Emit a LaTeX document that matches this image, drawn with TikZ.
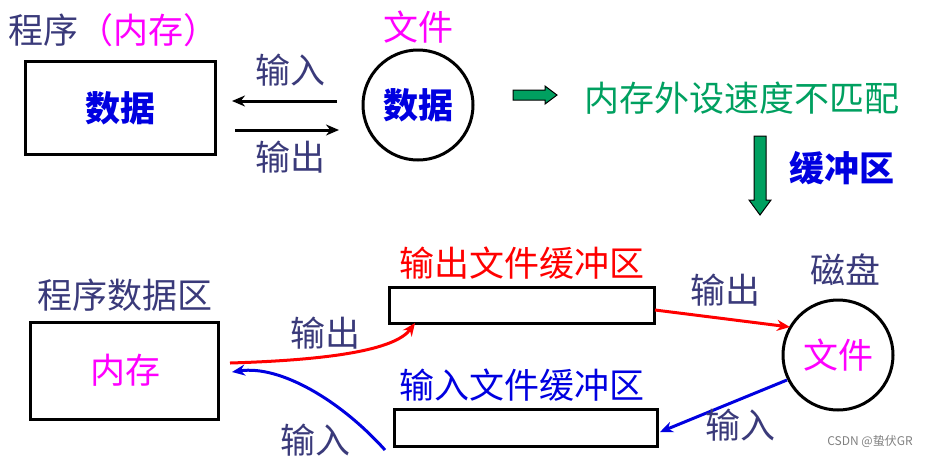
\documentclass[tikz,border=0pt]{standalone}
\usepackage{fontspec}
\setmainfont{Noto Sans CJK SC}
\usetikzlibrary{arrows.meta}
\definecolor{dk}{HTML}{3A3A7A}
\definecolor{mg}{HTML}{FF00FF}
\definecolor{gr}{HTML}{00A060}
\definecolor{bl}{HTML}{0000E0}
\tikzset{
 t/.style={inner sep=0pt,font=\fontsize{35}{37}\selectfont},
 tb/.style={inner sep=0pt,font=\bfseries\fontsize{35}{37}\selectfont},
 box/.style={draw,line width=3pt,inner sep=0pt},
 ar/.style={line width=3pt,-{Stealth[length=13pt,width=11pt]}},
 garrow/.style={draw=black,fill=gr,line width=1pt},
}
\begin{document}
\begin{tikzpicture}[x=1pt,y=-1pt]
\useasboundingbox (0,0) rectangle (937,459);
\node[t,dk,anchor=west] (t1) at (8,30) {程序\textcolor{mg}{（内存）}};
\node[box,minimum width=190pt,minimum height=93pt] (r1) at (120,108) {};
\node[tb,bl] (d1) at (120,108) {数据};
\node[draw,circle,line width=3pt,minimum size=110pt] (c1) at (418,105) {};
\node[tb,bl] (d2) at (418,105) {数据};
\node[t,mg] (f1) at (418,27) {文件};
\coordinate (a1) at (337,101); \coordinate (a2) at (232,101);
\coordinate (a3) at (235,130); \coordinate (a4) at (339,130);
\draw[ar,black] (a1) -- (a2);
\draw[ar,black] (a3) -- (a4);
\node[t,dk] (l1) at (290,70) {输入};
\node[t,dk] (l2) at (290,157) {输出};
\draw[garrow] (513,90) -- (545,90) -- (545,86) -- (557,95) -- (545,104) -- (545,100) -- (513,100) -- cycle;
\node[t,gr] (g1) at (742,98) {内存外设速度不匹配};
\draw[garrow] (754,136) -- (766,136) -- (766,200) -- (771,200) -- (760,215) -- (749,200) -- (754,200) -- cycle;
\node[tb,bl] (hc) at (842,168) {缓冲区};
\node[t,dk] (t2) at (125,295) {程序数据区};
\node[box,minimum width=188pt,minimum height=97pt] (r2) at (124,371) {};
\node[t,mg] (nc) at (125,370) {内存};
\node[t,red] (t3) at (522,263) {输出文件缓冲区};
\node[box,minimum width=265pt,minimum height=36pt] (ob) at (522,305) {};
\node[t,bl] (t4) at (522,385) {输入文件缓冲区};
\node[box,minimum width=263pt,minimum height=37pt] (ib) at (526,428) {};
\node[t,dk] (t5) at (845,270) {磁盘};
\node[draw,circle,line width=3pt,minimum size=110pt] (c2) at (838,355) {};
\node[t,mg] (f2) at (838,355) {文件};
\coordinate (s1) at (230,363);
\coordinate (s2) at (385,450);
\draw[ar,red] (s1) .. controls (330,360) and (395,350) .. (415,323);
\draw[ar,red] (655,310) -- (790,327);
\draw[ar,bl] (s2) .. controls (340,400) and (280,365) .. (232,372);
\draw[ar,bl] (787,380) -- (660,432);
\node[t,dk] (l3) at (325,333) {输出};
\node[t,dk] (l4) at (725,290) {输出};
\node[t,dk] (l5) at (315,440) {输入};
\node[t,dk] (l6) at (740,425) {输入};
\node[inner sep=0pt,gray,font=\fontsize{12}{13}\selectfont] (cs) at (870,441) {CSDN @蛰伏GR};
\end{tikzpicture}
\end{document}
